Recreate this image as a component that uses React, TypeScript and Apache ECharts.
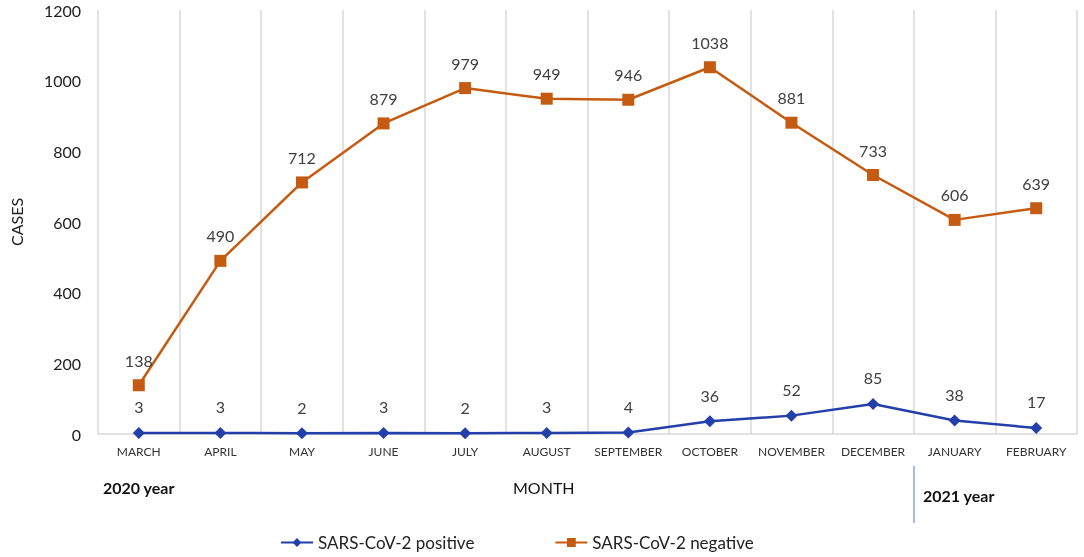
import React, { useEffect, useRef } from "react";
import * as echarts from "echarts";

const months = ["MARCH", "APRIL", "MAY", "JUNE", "JULY", "AUGUST", "SEPTEMBER", "OCTOBER", "NOVEMBER", "DECEMBER", "JANUARY", "FEBRUARY"];
const positive = [3, 3, 2, 3, 2, 3, 4, 36, 52, 85, 38, 17];
const negative = [138, 490, 712, 879, 979, 949, 946, 1038, 881, 733, 606, 639];
const seriesNames = ["SARS-CoV-2 positive", "SARS-CoV-2 negative"];

const BLUE = "#2340aa";
const ORANGE = "#c55a11";
const FONT = "Lato, 'Open Sans', 'Noto Sans', sans-serif";

export default function App() {
  const ref = useRef<HTMLDivElement>(null);
  useEffect(() => {
    const chart = echarts.init(ref.current!, null, { renderer: "svg" });
    chart.setOption({
      animation: false,
      textStyle: { fontFamily: FONT },
      grid: { left: 94, right: 7, top: 10, bottom: 123 },
      legend: {
        top: 529,
        left: 275,
        itemWidth: 32,
        itemHeight: 11,
        itemGap: 80,
        textStyle: { fontSize: 17, color: "#222", fontFamily: FONT },
        data: seriesNames,
      },
      xAxis: {
        type: "category",
        data: months,
        boundaryGap: true,
        axisLine: { lineStyle: { color: "#d9d9d9", width: 1.5 } },
        axisTick: { show: false },
        axisLabel: { color: "#333", fontSize: 12, margin: 11, interval: 0, fontFamily: FONT },
        splitLine: { show: true, interval: 0, lineStyle: { color: "#d9d9d9", width: 1.5 } },
      },
      yAxis: {
        type: "value",
        min: 0,
        max: 1200,
        interval: 200,
        name: "CASES",
        nameLocation: "middle",
        nameGap: 74,
        nameTextStyle: { fontSize: 16, color: "#222", fontFamily: FONT },
        axisLine: { show: false },
        axisTick: { show: false },
        splitLine: { show: false },
        axisLabel: { color: "#222", fontSize: 16, margin: 17, fontFamily: FONT, formatter: (v: number) => String(v) },
      },
      series: [
        {
          name: seriesNames[0],
          type: "line",
          data: positive,
          symbol: "diamond",
          symbolSize: 12,
          lineStyle: { color: BLUE, width: 2.5 },
          itemStyle: { color: BLUE },
          label: { show: true, position: "top", distance: 12, fontSize: 16, color: "#404040", fontFamily: FONT },
        },
        {
          name: seriesNames[1],
          type: "line",
          data: negative,
          symbol: "rect",
          symbolSize: 12,
          lineStyle: { color: ORANGE, width: 2.5 },
          itemStyle: { color: ORANGE },
          label: { show: true, position: "top", distance: 11, fontSize: 16, color: "#404040", fontFamily: FONT },
        },
      ],
      graphic: [
        { type: "text", left: 103, top: 479, style: { text: "2020 year", fontSize: 16, fontWeight: "bold", fill: "#111", fontFamily: FONT } },
        { type: "text", left: 513, top: 479, style: { text: "MONTH", fontSize: 16, fill: "#111", fontFamily: FONT } },
        { type: "text", left: 923, top: 487, style: { text: "2021 year", fontSize: 16, fontWeight: "bold", fill: "#111", fontFamily: FONT } },
        { type: "line", shape: { x1: 914, y1: 466, x2: 914, y2: 523 }, style: { stroke: "#8fa3d8", lineWidth: 1.5 } },
      ],
    });
    return () => chart.dispose();
  }, []);
  return <div ref={ref} style={{ position: "fixed", left: 0, top: 0, width: 1084, height: 557 }} />;
}
